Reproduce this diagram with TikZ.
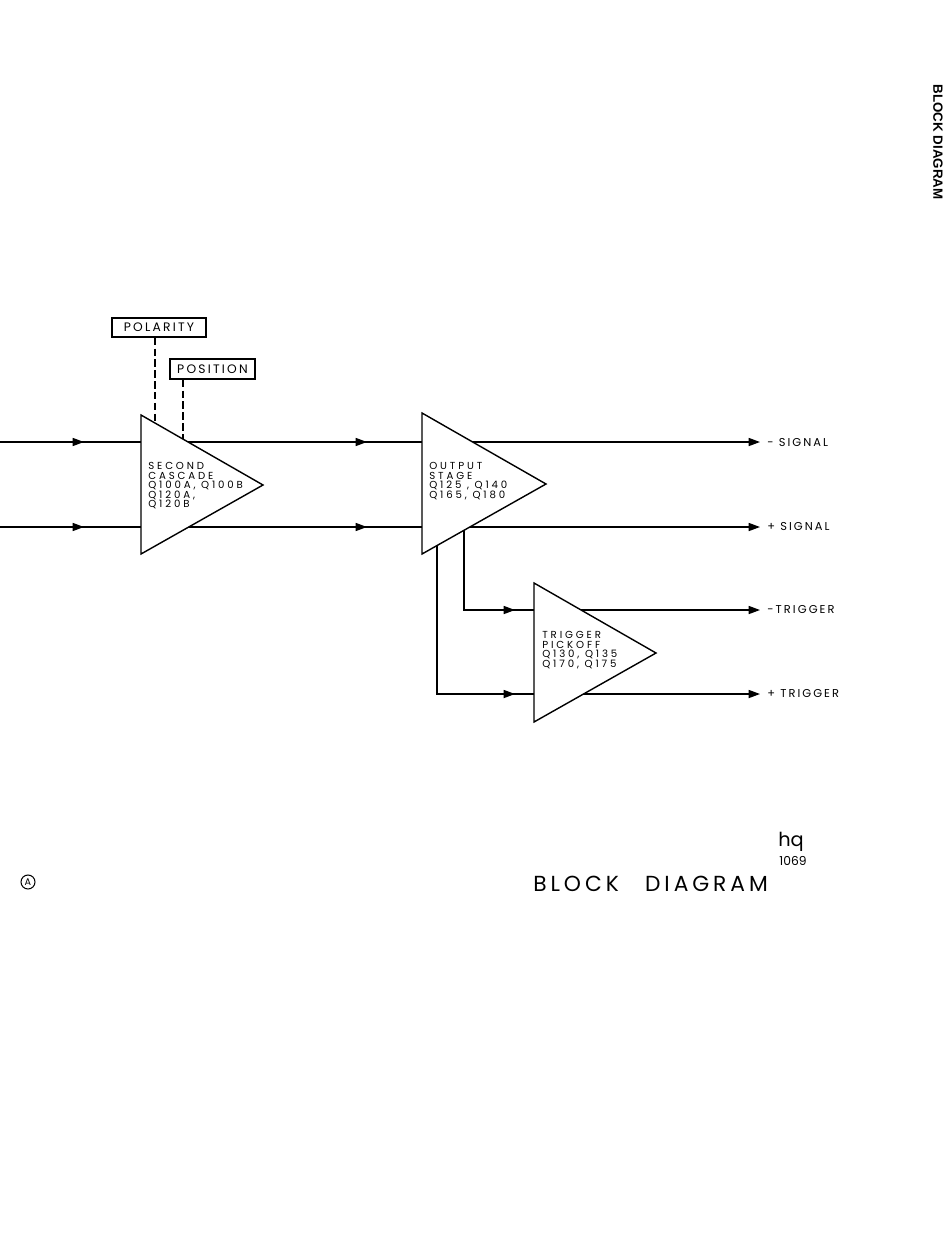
\documentclass[tikz,border=0pt]{standalone}
\usepackage{fontspec}
\setmainfont{Poppins}
\newfontfamily\leroy[LetterSpace=18]{Poppins}
\newfontfamily\leroywide[LetterSpace=28]{Poppins}
\newfontfamily\tabfont{Liberation Sans}
\newcommand\ampfont{\leroywide\fontsize{5.8}{5.4}\selectfont\lineskiplimit=-5pt\relax}
\usetikzlibrary{positioning, calc, arrows.meta}

\tikzset{
  wire/.style={line width=0.8pt},
  tip/.style={-{Triangle[length=6.5pt,width=4.6pt]}},
  amp/.style={line width=0.8pt, fill=white, line join=miter},
  amplabel/.style={anchor=north west, align=left, inner sep=0pt, font=\ampfont},
  outlabel/.style={anchor=west, inner sep=0pt, font=\leroy\fontsize{6.5}{7}\selectfont},
  ctrlbox/.style={draw, line width=0.7pt, inner sep=0pt, font=\leroy\fontsize{7}{8}\selectfont},
  ctrllink/.style={line width=0.7pt, dash pattern=on 4.2pt off 2pt},
}

\begin{document}
\begin{tikzpicture}[x=0.02cm, y=-0.02cm] % 1 unit = 1 px of the sheet

\useasboundingbox (0,0) rectangle (950,1233);

% amplifier corners
\coordinate (ampAtop) at (141,415);
\coordinate (ampAbot) at (141,554);
\coordinate (ampAtip) at (263,485);
\coordinate (ampBtop) at (422,413);
\coordinate (ampBbot) at (422,554);
\coordinate (ampBtip) at (546,484);
\coordinate (ampCtop) at (534,583);
\coordinate (ampCbot) at (534,722);
\coordinate (ampCtip) at (656,653);

% signal path points
\coordinate (inMinus) at (0,442);
\coordinate (inPlus) at (0,527);
\coordinate (arrMinusA) at (84,442);
\coordinate (arrPlusA) at (84,527);
\coordinate (arrMinusB) at (367,442);
\coordinate (arrPlusB) at (367,527);
\coordinate (outMinus) at (760,442);
\coordinate (outPlus) at (760,527);
\coordinate (tapMinus) at (464,524);
\coordinate (tapPlus) at (437,540);
\coordinate (arrTrigMinus) at (515,610);
\coordinate (arrTrigPlus) at (515,694);
\coordinate (outTrigMinus) at (760,610);
\coordinate (outTrigPlus) at (760,694);
\coordinate (polTap) at (155,428);
\coordinate (posTap) at (183,446);

% wires first, the amplifiers cover them
\foreach \arr in {arrMinusA, arrMinusB, outMinus}
  \draw[wire,tip] (inMinus) -- (\arr);
\foreach \arr in {arrPlusA, arrPlusB, outPlus}
  \draw[wire,tip] (inPlus) -- (\arr);
\foreach \arr in {arrTrigMinus, outTrigMinus}
  \draw[wire,tip] (tapMinus) |- (\arr);
\foreach \arr in {arrTrigPlus, outTrigPlus}
  \draw[wire,tip] (tapPlus) |- (\arr);

\node[ctrlbox, minimum width=1.88cm, minimum height=0.38cm] (polarity) at (159,327.5) {POLARITY};
\node[ctrlbox, minimum width=1.70cm, minimum height=0.40cm] (position) at (212.5,369) {POSITION};
\draw[ctrllink] (polTap |- polarity.south) -- (polTap);
\draw[ctrllink] (posTap |- position.south) -- (posTap);

\filldraw[amp] (ampAtop) -- (ampAtip) -- (ampAbot) -- cycle;
\filldraw[amp] (ampBtop) -- (ampBtip) -- (ampBbot) -- cycle;
\filldraw[amp] (ampCtop) -- (ampCtip) -- (ampCbot) -- cycle;

\node[amplabel] (cascade) at (148,462) {SECOND\\CASCADE\\Q100A, Q100B\\Q120A,\\Q120B};
\node[amplabel] (output) at (429,462) {OUTPUT\\STAGE\\Q125 , Q140\\Q165, Q180};
\node[amplabel] (pickoff) at (542,631) {TRIGGER\\PICKOFF\\Q130, Q135\\Q170, Q175};

\node[outlabel] (sigMinus) at (767,443) {- SIGNAL};
\node[outlabel] (sigPlus) at (767,527) {+ SIGNAL};
\node[outlabel] (trigMinus) at (767,610) {-TRIGGER};
\node[outlabel] (trigPlus) at (767,694) {+ TRIGGER};

% sheet marks
\node[rotate=-90, font=\tabfont\bfseries\fontsize{7.6}{9}\selectfont] (tab) at (938,142) {BLOCK DIAGRAM};
\node[anchor=west, inner sep=0pt, font=\leroy\fontsize{12.4}{14}\selectfont] (title) at (533,883.5) {BLOCK\hspace{15pt}DIAGRAM};
\node[font=\fontsize{11}{12}\selectfont] (initials) at (791,842) {hq};
\node[font=\fontsize{7}{8}\selectfont] (date) at (793,861) {1069};
\node[circle, draw, line width=0.6pt, inner sep=0pt, minimum size=0.28cm,
  font=\fontsize{5.5}{6}\selectfont] (sheetmark) at (28,882) {A};

\end{tikzpicture}
\end{document}
